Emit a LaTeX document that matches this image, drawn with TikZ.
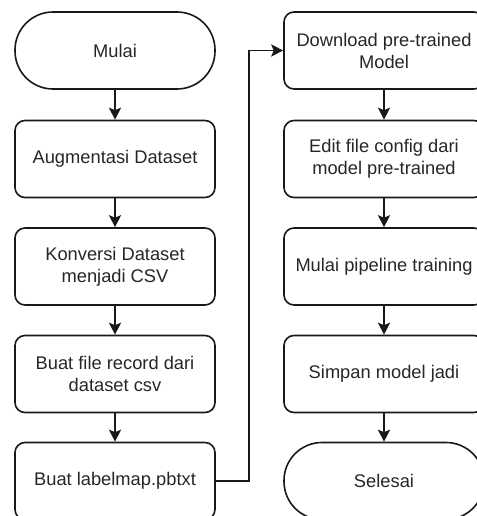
\documentclass[tikz,border=0pt]{standalone}
\usepackage{fontspec}
\setmainfont{Liberation Sans}
\usetikzlibrary{arrows.meta}
\begin{document}
\begin{tikzpicture}[x=1pt,y=-1pt,
  box/.style={draw=black!90, line width=1.6pt, rounded corners=10pt, minimum width=200pt, minimum height=77pt, align=center, inner sep=2pt, font=\fontsize{18.3}{22}\selectfont, text=black!85},
  term/.style={box, rounded corners=38pt},
  flow/.style={draw=black!90, line width=1.6pt, -{Stealth[length=12pt,width=12pt,inset=2.5pt]}}]
\useasboundingbox (0,0) rectangle (476,516);
\node[term] (mulai) at (115,50.5) {Mulai};
\node[box] (aug) at (115,159) {Augmentasi Dataset};
\node[box] (konv) at (115,266.5) {Konversi Dataset\\menjadi CSV};
\node[box] (rec) at (115,374) {Buat file record dari\\dataset csv};
\node[box] (lab) at (115,481) {Buat labelmap.pbtxt};
\node[box] (dl) at (384,50.5) {Download pre-trained\\Model};
\node[box] (edit) at (384,159) {Edit file config dari\\model pre-trained};
\node[box] (pipe) at (384,266.5) {Mulai pipeline training};
\node[box] (simp) at (384,374) {Simpan model jadi};
\node[term] (sel) at (384,481) {Selesai};
\draw[flow] (mulai) -- (aug);
\draw[flow] (aug) -- (konv);
\draw[flow] (konv) -- (rec);
\draw[flow] (rec) -- (lab);
\draw[flow] (lab.east) -- ++(33,0) |- (dl.west);
\draw[flow] (dl) -- (edit);
\draw[flow] (edit) -- (pipe);
\draw[flow] (pipe) -- (simp);
\draw[flow] (simp) -- (sel);
\end{tikzpicture}
\end{document}
